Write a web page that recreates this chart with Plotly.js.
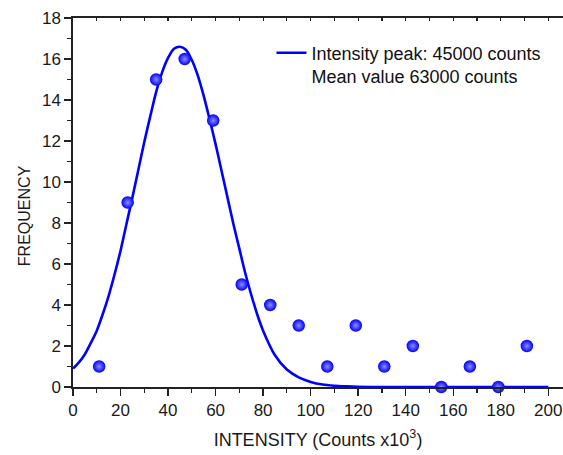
<!DOCTYPE html>
<html>
<head>
<meta charset="utf-8">
<script src="https://cdn.plot.ly/plotly-3.0.1.min.js"></script>
<style>html,body{margin:0;padding:0;background:#fff}#chart{width:563px;height:455px}</style>
</head>
<body>
<div id="chart"></div>
<script>
// Histogram points (bin centre, counts x10^3)
const binCenters = [11, 23, 35, 47, 59, 71, 83, 95, 107, 119, 131, 143, 155, 167, 179, 191];
const frequency  = [1, 9, 15, 16, 13, 5, 4, 3, 1, 3, 1, 2, 0, 1, 0, 2];

// Gaussian fit curve
const fitX = [0, 2.5, 5, 7.5, 10, 12.5, 15, 17.5, 20, 22.5, 25, 27.5, 30, 32.5, 35, 37.5, 40, 42.5, 45, 47.5, 50, 52.5, 55, 57.5, 60, 62.5, 65, 67.5, 70, 72.5, 75, 77.5, 80, 85, 90, 95, 100, 105, 110, 115, 120, 130, 140, 150, 160, 170, 180, 190, 200];
const fitY = [0.9, 1.2, 1.6, 2.15, 2.75, 3.55, 4.45, 5.5, 6.65, 7.95, 9.25, 10.6, 11.95, 13.2, 14.4, 15.35, 16.05, 16.5, 16.6, 16.45, 15.95, 15.2, 14.2, 13.05, 11.85, 10.55, 9.25, 7.95, 6.75, 5.55, 4.5, 3.55, 2.75, 1.55, 0.85, 0.47, 0.25, 0.12, 0.06, 0.03, 0.01, 0, 0, 0, 0, 0, 0, 0, 0];

const fitName = 'Intensity peak: 45000 counts<br>Mean value 63000 counts';
const xTitle = 'INTENSITY (Counts x10<sup>3</sup>)';
const yTitle = 'FREQUENCY';

const font = 'Liberation Sans, Arial, sans-serif';

const traces = [
  {
    x: fitX, y: fitY, type: 'scatter', mode: 'lines',
    line: {color: '#0000ff', width: 2.6, shape: 'spline', smoothing: 0.8},
    name: fitName, showlegend: true, hoverinfo: 'skip'
  },
  {
    x: binCenters, y: frequency, type: 'scatter', mode: 'markers',
    marker: {size: 12.5, color: '#0000ff', line: {width: 0},
             gradient: {type: 'radial', color: '#8c8cff'}},
    showlegend: false, cliponaxis: false
  },
  {
    x: [0, 200], y: [null, null], xaxis: 'x2', type: 'scatter', mode: 'lines',
    showlegend: false, hoverinfo: 'skip'
  }
];

const xr = [0, 206.2];
const layout = {
  width: 563, height: 455,
  margin: {l: 73, r: 0, t: 18, b: 68, pad: 0},
  paper_bgcolor: '#fff', plot_bgcolor: '#fff',
  font: {family: font, size: 17, color: '#1a1a1a'},
  showlegend: true,
  legend: {x: 0.405, y: 0.955, xanchor: 'left', yanchor: 'top', valign: 'top',
           bgcolor: 'rgba(0,0,0,0)', font: {family: font, size: 18, color: '#111'},
           tracegroupgap: 0, itemwidth: 30},
  annotations: [{
    text: yTitle, xref: 'paper', yref: 'paper', x: -0.1, y: 0.463,
    xanchor: 'center', yanchor: 'middle', textangle: -90, showarrow: false,
    font: {family: font, size: 16, color: '#1a1a1a'}
  }],
  xaxis: {
    range: xr, showgrid: false, zeroline: false,
    showline: true, linecolor: '#222', linewidth: 1.6,
    ticks: 'outside', ticklen: 7, tickwidth: 1.4, tickcolor: '#222',
    tick0: 0, dtick: 20,
    minor: {dtick: 10, ticks: 'outside', ticklen: 4, tickwidth: 1.2, tickcolor: '#222', showgrid: false},
    tickfont: {family: font, size: 17, color: '#1a1a1a'},
    title: {text: xTitle, font: {family: font, size: 18, color: '#1a1a1a'}, standoff: 14},
    fixedrange: true
  },
  xaxis2: {
    overlaying: 'x', side: 'top', anchor: 'y',
    range: xr, showgrid: false, zeroline: false,
    showline: true, linecolor: '#222', linewidth: 1.6,
    ticks: 'inside', ticklen: 3, tickwidth: 1.2, tickcolor: '#222',
    tick0: 0, dtick: 10, showticklabels: false, fixedrange: true
  },
  yaxis: {
    range: [0, 18], showgrid: false, zeroline: false,
    showline: true, linecolor: '#222', linewidth: 1.6,
    ticks: 'outside', ticklen: 7, tickwidth: 1.4, tickcolor: '#222',
    tick0: 0, dtick: 2,
    minor: {dtick: 1, ticks: 'outside', ticklen: 4, tickwidth: 1.2, tickcolor: '#222', showgrid: false},
    tickfont: {family: font, size: 17, color: '#1a1a1a'},
    fixedrange: true
  }
};

Plotly.newPlot('chart', traces, layout, {displayModeBar: false, staticPlot: true});
</script>
</body>
</html>
